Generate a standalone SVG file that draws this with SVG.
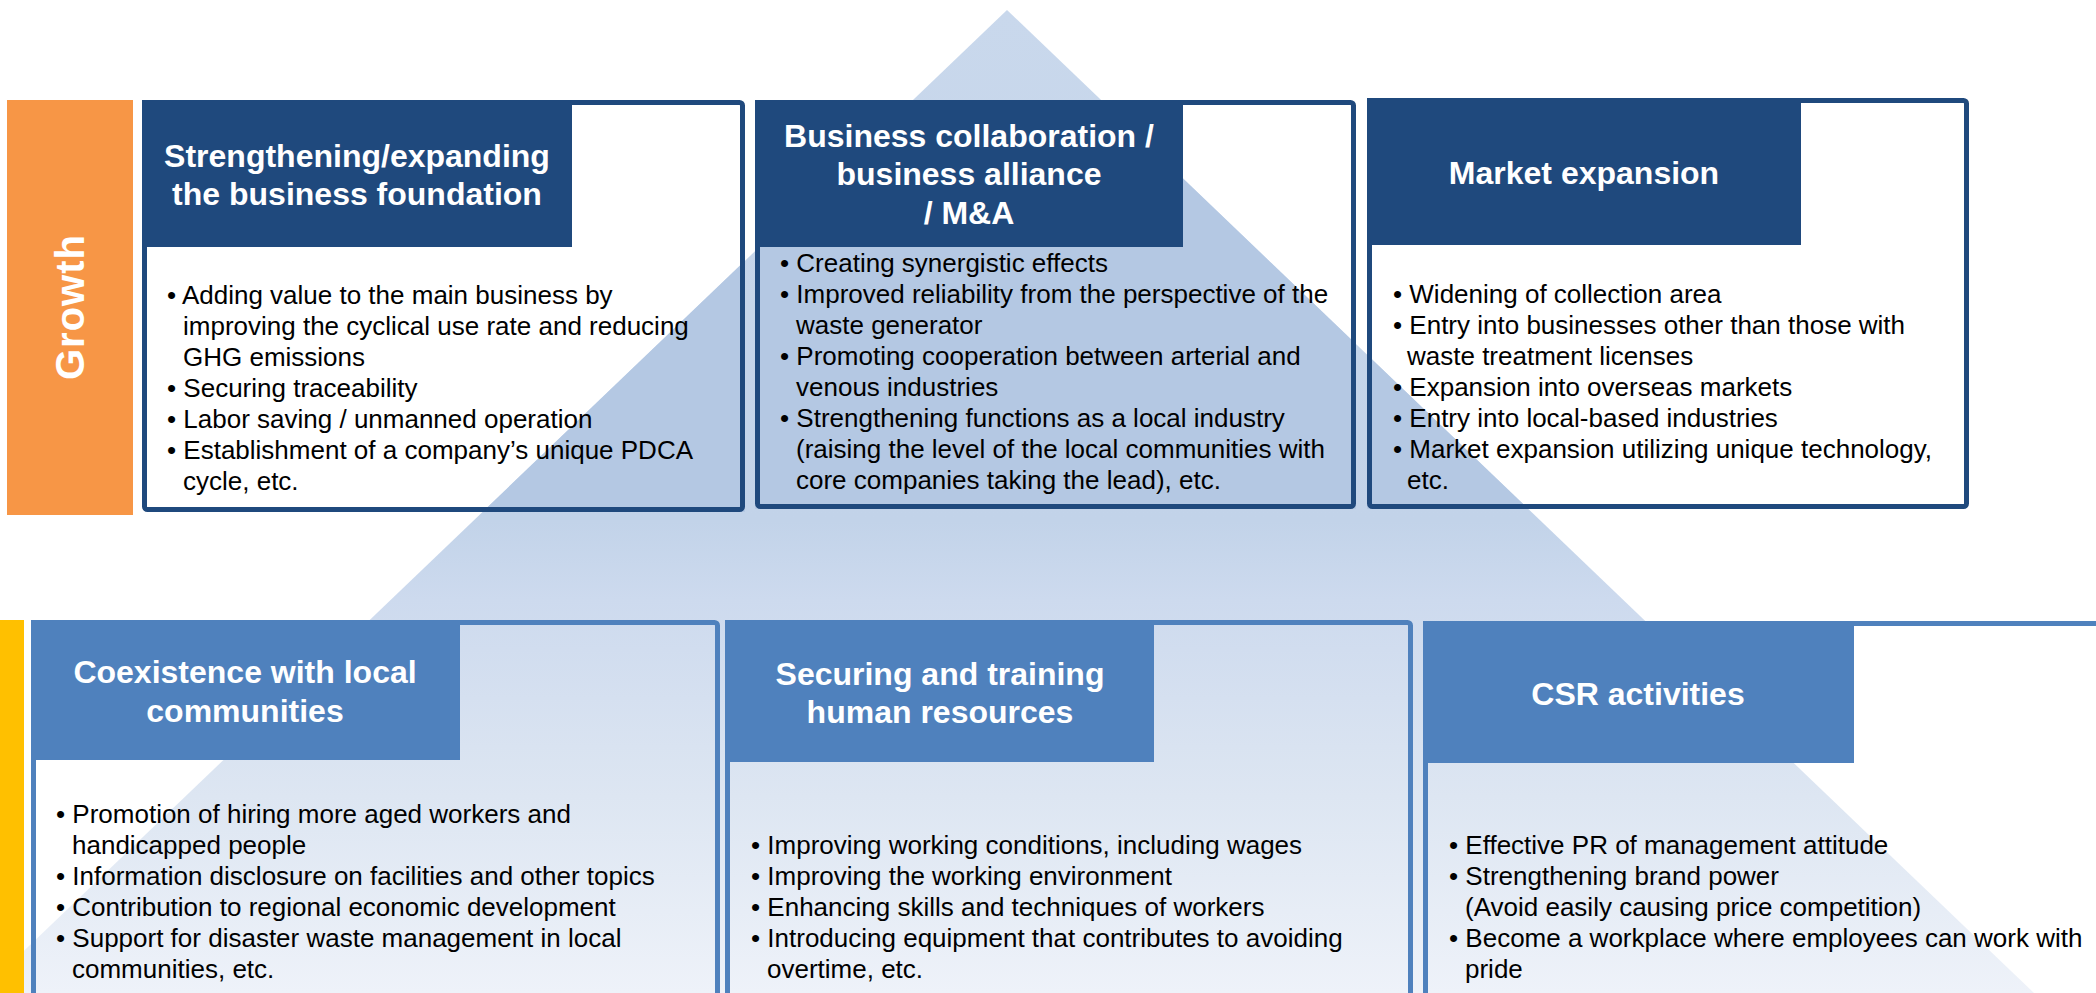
<svg xmlns="http://www.w3.org/2000/svg" width="2096" height="993" viewBox="0 0 2096 993">
<style>
.hd{font-family:"Liberation Sans",Arial,sans-serif;font-weight:bold;font-size:32px;fill:#fff;text-anchor:middle}
.bd{font-family:"Liberation Sans",Arial,sans-serif;font-size:26px;fill:#000}
.up{fill:none;stroke:#1f497d;stroke-width:5}
.lo{fill:none;stroke:#4f81bd;stroke-width:5}
.uph{fill:#1f497d}
.loh{fill:#4f81bd}
</style>
<defs>
<linearGradient id="tri" gradientUnits="userSpaceOnUse" x1="0" y1="10" x2="0" y2="993">
<stop offset="0" stop-color="#c9d8ec"/>
<stop offset="0.52" stop-color="#c2d3e9"/>
<stop offset="0.6" stop-color="#cddaee"/>
<stop offset="0.8" stop-color="#dde6f2"/>
<stop offset="1" stop-color="#eef2f9"/>
</linearGradient>
<clipPath id="upclip">
<rect x="142" y="100" width="603" height="412"/>
<rect x="755" y="100" width="601" height="409"/>
<rect x="1367" y="98" width="602" height="411"/>
</clipPath>
</defs>
<rect width="2096" height="993" fill="#fff"/>
<g id="pyramid">
<polygon points="1007,10 -20,993 2034,993" fill="url(#tri)"/>
<polygon points="1007,10 -20,993 2034,993" fill="#b4c8e3" clip-path="url(#upclip)"/>
</g>
<g id="growth">
<rect x="7" y="100" width="126" height="415" fill="#f79646"/>
<text x="84" y="307" transform="rotate(-90 84 307)" font-family="'Liberation Sans',Arial,sans-serif" font-weight="bold" font-size="40" fill="#fff" text-anchor="middle" letter-spacing="1">Growth</text>
</g>
<g id="foundation-bar">
<rect x="0" y="620" width="24" height="373" fill="#ffc000"/>
</g>
<g id="box1">
<rect class="up" x="144.5" y="102.5" width="598" height="407" rx="3"/>
<rect class="uph" x="142" y="100" width="430" height="147"/>
<text class="hd" x="357" y="167">Strengthening/expanding</text>
<text class="hd" x="357" y="205">the business foundation</text>
<text class="bd" x="167" y="304">• Adding value to the main business by</text>
<text class="bd" x="183" y="335">improving the cyclical use rate and reducing</text>
<text class="bd" x="183" y="366">GHG emissions</text>
<text class="bd" x="167" y="397">• Securing traceability</text>
<text class="bd" x="167" y="428">• Labor saving / unmanned operation</text>
<text class="bd" x="167" y="459">• Establishment of a company’s unique PDCA</text>
<text class="bd" x="183" y="490">cycle, etc.</text>
</g>
<g id="box2">
<rect class="up" x="757.5" y="102.5" width="596" height="404" rx="3"/>
<rect class="uph" x="755" y="100" width="428" height="147"/>
<text class="hd" x="969" y="147">Business collaboration /</text>
<text class="hd" x="969" y="185">business alliance</text>
<text class="hd" x="969" y="224">/ M&amp;A</text>
<text class="bd" x="780" y="272">• Creating synergistic effects</text>
<text class="bd" x="780" y="303">• Improved reliability from the perspective of the</text>
<text class="bd" x="796" y="334">waste generator</text>
<text class="bd" x="780" y="365">• Promoting cooperation between arterial and</text>
<text class="bd" x="796" y="396">venous industries</text>
<text class="bd" x="780" y="427">• Strengthening functions as a local industry</text>
<text class="bd" x="796" y="458">(raising the level of the local communities with</text>
<text class="bd" x="796" y="489">core companies taking the lead), etc.</text>
</g>
<g id="box3">
<rect class="up" x="1369.5" y="100.5" width="597" height="406" rx="3"/>
<rect class="uph" x="1367" y="98" width="434" height="147"/>
<text class="hd" x="1584" y="184">Market expansion</text>
<text class="bd" x="1393" y="303">• Widening of collection area</text>
<text class="bd" x="1393" y="334">• Entry into businesses other than those with</text>
<text class="bd" x="1407" y="365">waste treatment licenses</text>
<text class="bd" x="1393" y="396">• Expansion into overseas markets</text>
<text class="bd" x="1393" y="427">• Entry into local-based industries</text>
<text class="bd" x="1393" y="458">• Market expansion utilizing unique technology,</text>
<text class="bd" x="1407" y="489">etc.</text>
</g>
<g id="box4">
<rect class="lo" x="33.5" y="622.5" width="684" height="400" rx="3"/>
<rect class="loh" x="31" y="620" width="429" height="140"/>
<text class="hd" x="245" y="683">Coexistence with local</text>
<text class="hd" x="245" y="722">communities</text>
<text class="bd" x="56" y="823">• Promotion of hiring more aged workers and</text>
<text class="bd" x="72" y="854">handicapped people</text>
<text class="bd" x="56" y="885">• Information disclosure on facilities and other topics</text>
<text class="bd" x="56" y="916">• Contribution to regional economic development</text>
<text class="bd" x="56" y="947">• Support for disaster waste management in local</text>
<text class="bd" x="72" y="978">communities, etc.</text>
</g>
<g id="box5">
<rect class="lo" x="727.5" y="622.5" width="683" height="400" rx="3"/>
<rect class="loh" x="725" y="620" width="429" height="142"/>
<text class="hd" x="940" y="685">Securing and training</text>
<text class="hd" x="940" y="723">human resources</text>
<text class="bd" x="751" y="854">• Improving working conditions, including wages</text>
<text class="bd" x="751" y="885">• Improving the working environment</text>
<text class="bd" x="751" y="916">• Enhancing skills and techniques of workers</text>
<text class="bd" x="751" y="947">• Introducing equipment that contributes to avoiding</text>
<text class="bd" x="767" y="978">overtime, etc.</text>
</g>
<g id="box6">
<rect class="lo" x="1425.5" y="623.5" width="700" height="400" rx="3"/>
<rect class="loh" x="1423" y="621" width="431" height="142"/>
<text class="hd" x="1638" y="705">CSR activities</text>
<text class="bd" x="1449" y="854">• Effective PR of management attitude</text>
<text class="bd" x="1449" y="885">• Strengthening brand power</text>
<text class="bd" x="1465" y="916">(Avoid easily causing price competition)</text>
<text class="bd" x="1449" y="947">• Become a workplace where employees can work with</text>
<text class="bd" x="1465" y="978">pride</text>
</g>
<g id="connectors"/>
</svg>
